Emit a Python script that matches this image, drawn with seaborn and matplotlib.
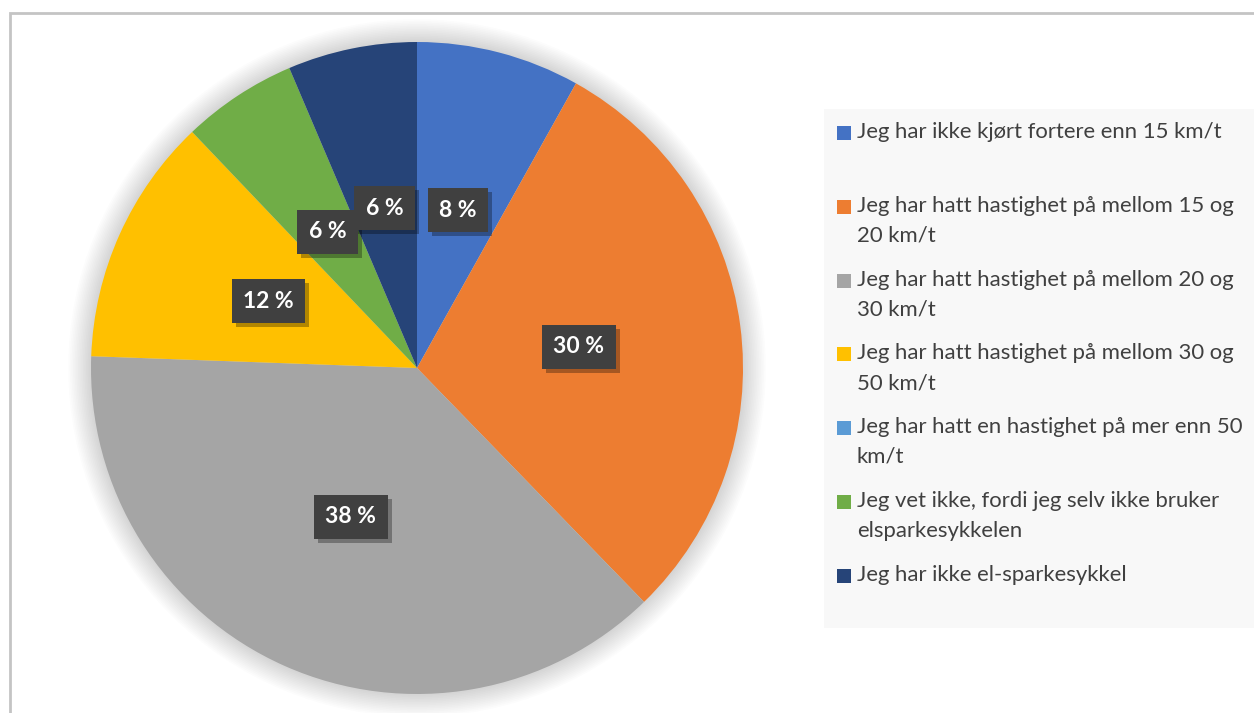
import textwrap
import matplotlib
matplotlib.use("Agg")
import matplotlib.pyplot as plt
import matplotlib.patches as mpatches
import matplotlib.patheffects as pe
import seaborn as sns

sns.set_style("white")
plt.rcParams["font.family"] = ["Lato", "DejaVu Sans"]

#%% Data
labels = [
    "Jeg har ikke kjørt fortere enn 15 km/t",
    "Jeg har hatt hastighet på mellom 15 og 20 km/t",
    "Jeg har hatt hastighet på mellom 20 og 30 km/t",
    "Jeg har hatt hastighet på mellom 30 og 50 km/t",
    "Jeg har hatt en hastighet på mer enn 50 km/t",
    "Jeg vet ikke, fordi jeg selv ikke bruker elsparkesykkelen",
    "Jeg har ikke el-sparkesykkel",
]
shares = [8.1, 29.6, 37.8, 12.3, 0.0, 5.7, 6.4]
colors = ["#4472C4", "#ED7D31", "#A5A5A5", "#FFC000", "#5B9BD5", "#70AD47", "#264478"]

W, H = 1254, 713
fig = plt.figure(figsize=(W / 100, H / 100), dpi=100)

# outer chart border (cropped at right / bottom)
fig.patches.append(mpatches.Rectangle((10 / W, -0.1), 1.2, (H - 13.5) / H + 0.1,
                                      transform=fig.transFigure, fill=False,
                                      edgecolor="#c4c4c4", lw=2))

# pie axes: centre (417, 368) px, radius 326 px
cx, cy, r = 417, H - 368, 326
ax = fig.add_axes([(cx - r) / W, (cy - r) / H, 2 * r / W, 2 * r / H])

# soft glow behind the pie
for k in range(14):
    ax.add_patch(mpatches.Circle((0, 0), 1.0 + 0.005 * (k + 1), color="black",
                                 alpha=0.013, lw=0, zorder=0, clip_on=False))


def fmt(p):
    return "" if p < 0.5 else "{:.0f} %".format(p)


wedges, texts, autotexts = ax.pie(shares, colors=colors, startangle=90, counterclock=False,
                                  autopct=fmt, pctdistance=0.5,
                                  wedgeprops=dict(linewidth=0))
for w in wedges:
    w.set_zorder(1)

for t in autotexts:
    t.set_color("white")
    t.set_fontsize(16.5)
    t.set_fontweight("bold")
    t.set_zorder(4)
    if not t.get_text():
        continue
    t.set_bbox(dict(boxstyle="square,pad=0.5", fc="#404040", ec="none", lw=0))
    t.get_bbox_patch().set_path_effects(
        [pe.SimplePatchShadow(offset=(3, -3), shadow_rgbFace="black", alpha=0.3), pe.Normal()])

ax.set_xlim(-1, 1)
ax.set_ylim(-1, 1)
ax.axis("off")

# legend panel
fig.patches.append(mpatches.Rectangle((824 / W, (H - 628) / H), 0.5, (628 - 109) / H,
                                      transform=fig.transFigure, fc="#f8f8f8", ec="none",
                                      zorder=0))
y0, step = 133, 73.8
for i, (lab, col) in enumerate(zip(labels, colors)):
    yc = y0 + step * i
    fig.patches.append(mpatches.Rectangle((837 / W, (H - yc - 7) / H), 14 / W, 14 / H,
                                          transform=fig.transFigure, fc=col, ec="none",
                                          zorder=2))
    fig.text(857 / W, (H - yc + 11) / H, "\n".join(textwrap.wrap(lab, 40)),
             ha="left", va="top", fontsize=15.9, color="#404040", linespacing=1.6)

plt.savefig("out.png", dpi=100)
